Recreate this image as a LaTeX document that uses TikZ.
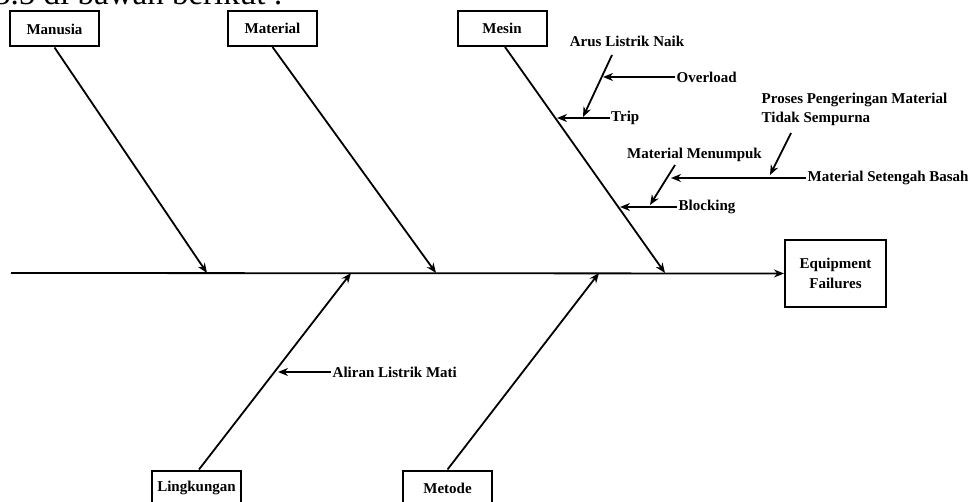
\documentclass[tikz,border=0pt]{standalone}
\usepackage{fontspec}
\setmainfont{Liberation Serif}
\usetikzlibrary{arrows.meta}

\newcommand{\fishfont}{\bfseries\fontsize{15}{19.5}\selectfont}

\begin{document}
\begin{tikzpicture}[x=1pt, y=-1pt,
        cat/.style={draw, line width=2pt, minimum width=89pt, minimum height=35pt, inner sep=0pt, font=\fishfont},
        cause/.style={font=\fishfont, inner sep=1.5pt},
        bone/.style={line width=1.8pt, -{Stealth[length=10pt, width=8pt]}}]
        \useasboundingbox (0,0) rectangle (974,502);
        \clip (0,0) rectangle (974,502);

        \node [anchor=base west, inner sep=0pt, font=\fontsize{33}{36}\selectfont] (intro) at (-6,5) {3.5 di bawah berikut :};

        \node [cat] (manusia) at (54.5,29) {Manusia};
        \node [cat] (material) at (272.5,28.5) {Material};
        \node [cat] (mesin) at (502,28.5) {Mesin};
        \node [cat] (lingkungan) at (196.5,488) {Lingkungan};
        \node [cat] (metode) at (447.5,488) {Metode};
        \node [cat, minimum width=101pt, minimum height=67pt, align=center] (failures) at (835.5,273.5) {Equipment\\Failures};

        \coordinate (tail) at (11,273);
        \draw [bone] (tail) -- (failures.west);

        \coordinate (tipManusia) at (207,273);
        \coordinate (tipMaterial) at (436,273);
        \coordinate (tipMesin) at (665,273);
        \coordinate (tipLingkungan) at (351,273);
        \coordinate (tipMetode) at (599,273);
        \draw [bone] (manusia.south) -- (tipManusia);
        \draw [bone] (material.south) -- (tipMaterial);
        \draw [bone] ([xshift=3pt]mesin.south) -- (tipMesin);
        \draw [bone] ([xshift=2.5pt]lingkungan.north) -- (tipLingkungan);
        \draw [bone] (metode.north) -- (tipMetode);

        \node [cause, anchor=west] (trip) at (609.5,118) {Trip};
        \coordinate (tripTip) at (557,118);
        \draw [bone] (trip.west) -- (tripTip);

        \node [cause] (arus) at (627,41) {Arus Listrik Naik};
        \coordinate (arusStart) at (612,55);
        \coordinate (arusTip) at (583,117);
        \draw [bone] (arusStart) -- (arusTip);

        \node [cause, anchor=west] (overload) at (675,77) {Overload};
        \coordinate (overloadTip) at (603,77);
        \draw [bone] (overload.west) -- (overloadTip);

        \node [cause, anchor=west] (blocking) at (677,207) {Blocking};
        \coordinate (blockingTip) at (620,207);
        \draw [bone] (blocking.west) -- (blockingTip);

        \node [cause] (menumpuk) at (694.5,155) {Material Menumpuk};
        \coordinate (menumpukStart) at (675,165);
        \coordinate (menumpukTip) at (650,205);
        \draw [bone] (menumpukStart) -- (menumpukTip);

        \node [cause, anchor=west] (basah) at (806,178) {Material Setengah Basah};
        \coordinate (basahTip) at (671,178);
        \draw [bone] (basah.west) -- (basahTip);

        \node [cause, anchor=north west, align=left] (proses) at (760,91) {Proses Pengeringan Material\\Tidak Sempurna};
        \coordinate (prosesStart) at (791,133);
        \coordinate (prosesTip) at (770,175);
        \draw [bone] (prosesStart) -- (prosesTip);

        \node [cause, anchor=west] (aliran) at (331,372) {Aliran Listrik Mati};
        \coordinate (aliranTip) at (278,372);
        \draw [bone] (aliran.west) -- (aliranTip);
\end{tikzpicture}
\end{document}
